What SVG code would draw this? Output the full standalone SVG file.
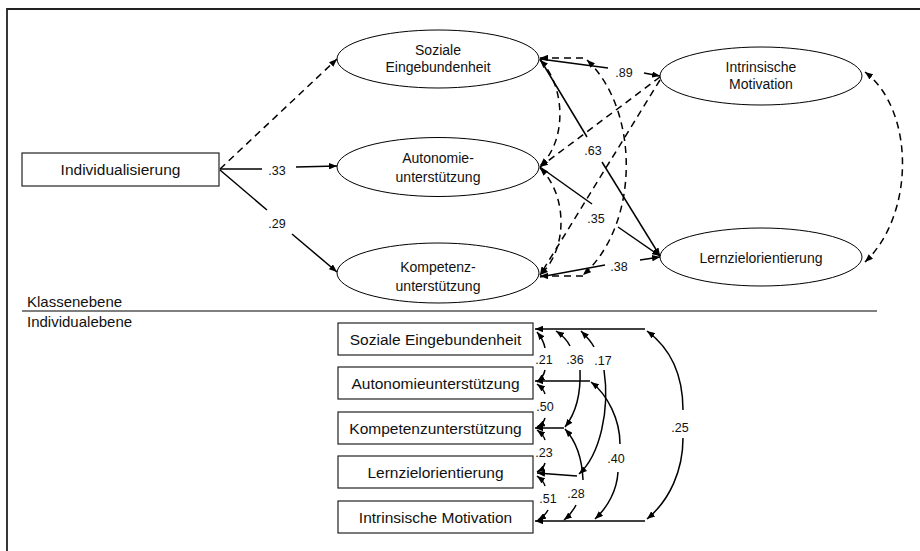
<svg xmlns="http://www.w3.org/2000/svg" width="920" height="551" viewBox="0 0 920 551">
<defs>
<style>
.node{fill:#fff;stroke:#000;stroke-width:1}
.box{fill:#fff;stroke:#222;stroke-width:1.2}
.t{font-family:"Liberation Sans",Arial,sans-serif;fill:#111;text-anchor:middle}
.te{font-size:14px}
.tb{font-size:15.5px}
.lbl{font-family:"Liberation Sans",Arial,sans-serif;font-size:12.5px;fill:#111;text-anchor:middle}
.c{fill:none;stroke:#000;stroke-width:1.5}
.d{fill:none;stroke:#000;stroke-width:1.5;stroke-dasharray:7,5}
.a{marker-end:url(#ah)}
.s{marker-start:url(#ah)}
</style>
<marker id="ah" viewBox="0 0 10 8" refX="10" refY="4" markerWidth="8" markerHeight="6.4" markerUnits="userSpaceOnUse" orient="auto-start-reverse">
<path d="M0,0 L10,4 L0,8 z" fill="#000" stroke="none"/>
</marker>
</defs>
<rect width="920" height="551" fill="#fff"/>
<path d="M7,551 L7,9 L920,9" fill="none" stroke="#222" stroke-width="1.8"/>
<line x1="22" y1="311" x2="877" y2="311" stroke="#000" stroke-width="1.2"/>
<text class="t tb" x="27" y="307" style="text-anchor:start;font-size:15px">Klassenebene</text>
<text class="t tb" x="27" y="327" style="text-anchor:start;font-size:15px">Individualebene</text>

<g id="individualisierung">
<rect class="box" x="22" y="153" width="197" height="33"/>
<text class="t tb" x="120.5" y="175">Individualisierung</text>
</g>
<g id="soziale">
<ellipse class="node" cx="438" cy="59" rx="101" ry="29"/>
<text class="t te" x="438" y="55">Soziale</text>
<text class="t te" x="438" y="72">Eingebundenheit</text>
</g>
<g id="autonomie">
<ellipse class="node" cx="438" cy="167" rx="101" ry="29.5"/>
<text class="t te" x="438" y="163">Autonomie-</text>
<text class="t te" x="438" y="182">unterstützung</text>
</g>
<g id="kompetenz">
<ellipse class="node" cx="438" cy="273" rx="101" ry="30"/>
<text class="t te" x="438" y="272">Kompetenz-</text>
<text class="t te" x="438" y="291">unterstützung</text>
</g>
<g id="intrinsisch">
<ellipse class="node" cx="761" cy="76" rx="101" ry="29"/>
<text class="t te" x="761" y="72">Intrinsische</text>
<text class="t te" x="761" y="89">Motivation</text>
</g>
<g id="lernziel">
<ellipse class="node" cx="761" cy="257" rx="101" ry="29"/>
<text class="t te" x="761" y="263">Lernzielorientierung</text>
</g>

<g id="b-soziale"><rect class="box" x="338" y="323" width="195" height="32"/><text class="t tb" x="435.5" y="344.5">Soziale Eingebundenheit</text></g>
<g id="b-autonomie"><rect class="box" x="338" y="367" width="195" height="32"/><text class="t tb" x="435.5" y="388.5">Autonomieunterstützung</text></g>
<g id="b-kompetenz"><rect class="box" x="338" y="412" width="195" height="32"/><text class="t tb" x="435.5" y="433.5">Kompetenzunterstützung</text></g>
<g id="b-lernziel"><rect class="box" x="338" y="456" width="195" height="32"/><text class="t tb" x="435.5" y="477.5">Lernzielorientierung</text></g>
<g id="b-intrinsisch"><rect class="box" x="338" y="501" width="195" height="32"/><text class="t tb" x="435.5" y="522.5">Intrinsische Motivation</text></g>

<g id="connectors">
<!-- from Individualisierung -->
<path class="d a" d="M220,169 L337,59"/>
<path class="c" d="M220,169 L262,169"/>
<path class="c a" d="M296,167 L337,166"/>
<path class="c" d="M220,170 L267,210"/>
<path class="c a" d="M292,234 L337,272"/>
<!-- paths to outcomes -->
<path class="c" d="M540,59 L608,68"/>
<path class="c a" d="M644,73 L660,76"/>
<path class="c" d="M540,59 L587,137"/>
<path class="c a" d="M602,162 L660,256"/>
<path class="c" d="M540,167 L592,204"/>
<path class="c a" d="M618,227 L660,256"/>
<path class="c" d="M540,277 L605,265"/>
<path class="c a" d="M640,260 L660,257"/>
<!-- dashed covariances -->
<path class="d s" d="M540,58 L587,58"/>
<path class="d s a" d="M587,60 C640,110 640,225 583,275"/>
<path class="d s" d="M540,276 L583,276"/>
<path class="d s a" d="M540,60 C565,85 568,140 540,166"/>
<path class="d s a" d="M540,168 C568,195 568,250 540,275"/>
<path class="d a" d="M660,77 L540,167"/>
<path class="d a" d="M660,80 L540,275"/>
<path class="d s a" d="M865,72 C915,110 915,215 865,262"/>
<!-- individual level -->
<path class="c a" d="M645,329 L535,329"/>
<path class="c a" d="M590,381 L535,381"/>
<path class="c a" d="M564,428 L535,428"/>
<path class="c a" d="M577,476 L537,473"/>
<path class="c a" d="M645,521 L535,521"/>
<path class="c a" d="M683,410 C683,375 670,348 647,331"/>
<path class="c a" d="M683,438 C683,470 670,500 647,519"/>
<path class="c a" d="M620,444 C620,420 608,395 591,382"/>
<path class="c a" d="M618,472 C617,490 608,507 595,519"/>
<path class="c a" d="M570,346 C567,340 562,335 556,331"/>
<path class="c a" d="M580,370 C581,395 576,413 565,427"/>
<path class="c a" d="M594,347 C591,341 586,336 581,331"/>
<path class="c a" d="M604,370 C610,410 600,455 579,474"/>
<path class="c s" d="M565,429 C575,440 582,455 583,480"/>
<path class="c a" d="M576,505 C573,511 569,516 564,520"/>
<path class="c a" d="M545,348 C544,342 541,337 537,332"/>
<path class="c a" d="M545,370 C544,375 541,379 537,382"/>
<path class="c a" d="M545,394 C544,390 541,387 537,384"/>
<path class="c a" d="M545,418 C544,422 541,425 537,427"/>
<path class="c a" d="M545,440 C544,436 541,433 537,430"/>
<path class="c a" d="M545,463 C544,467 541,470 537,472"/>
<path class="c a" d="M545,486 C544,482 541,479 537,476"/>
<path class="c a" d="M548,510 C546,514 543,517 538,520"/>
</g>
<g id="labels">
<text class="lbl" x="277" y="174.5">.33</text>
<text class="lbl" x="277" y="227.5">.29</text>
<text class="lbl" x="624" y="76.5">.89</text>
<text class="lbl" x="593" y="154.5">.63</text>
<text class="lbl" x="596" y="222.5">.35</text>
<text class="lbl" x="619" y="270.5">.38</text>
<text class="lbl" x="544" y="363.5">.21</text>
<text class="lbl" x="575" y="363.5">.36</text>
<text class="lbl" x="603" y="364.5">.17</text>
<text class="lbl" x="545" y="410.5">.50</text>
<text class="lbl" x="544" y="456.5">.23</text>
<text class="lbl" x="548" y="502.5">.51</text>
<text class="lbl" x="576" y="497.5">.28</text>
<text class="lbl" x="616" y="462.5">.40</text>
<text class="lbl" x="680" y="431.5">.25</text>
</g>
</svg>
